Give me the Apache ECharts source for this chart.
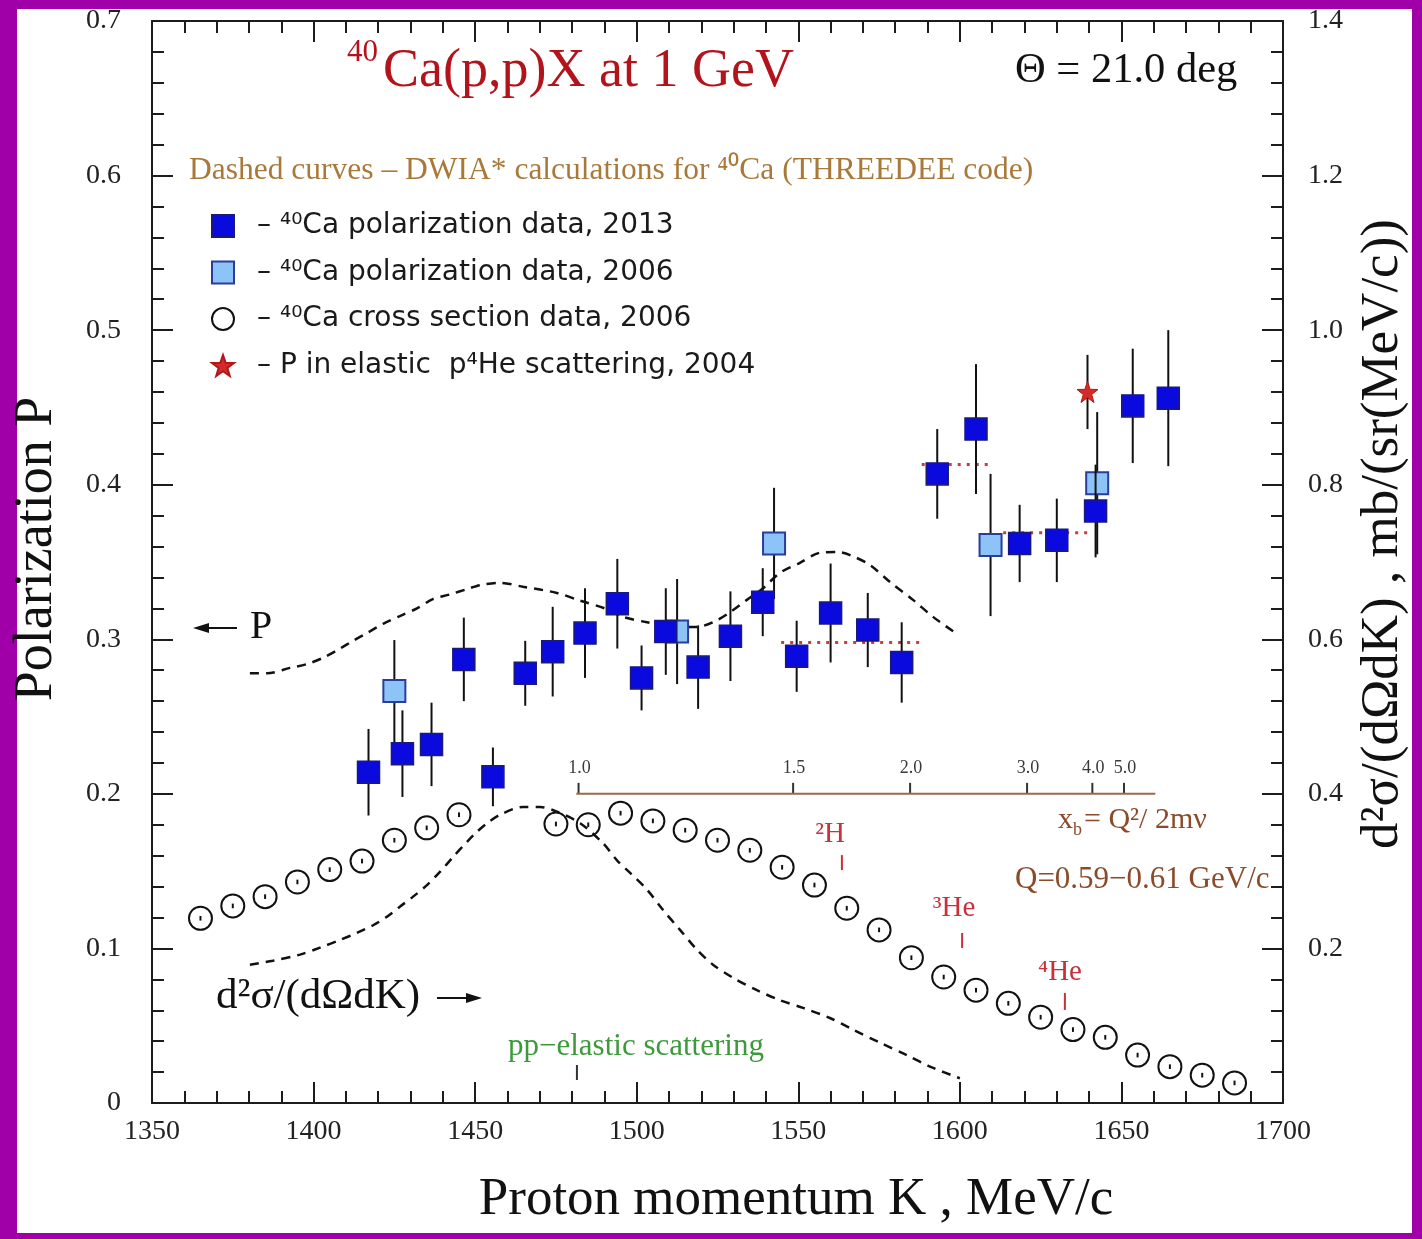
<!DOCTYPE html>
<html>
<head>
<meta charset="utf-8">
<title>40Ca(p,p)X at 1 GeV</title>
<script src="https://cdn.jsdelivr.net/npm/echarts@6/dist/echarts.min.js"></script>
<style>
  html, body { margin: 0; padding: 0; background: #a000a8; }
  #chart { width: 1422px; height: 1239px; }
</style>
</head>
<body>
<div id="chart"></div>
<script>
// ---- 2013 polarization data (K in MeV/c, P, statistical error) ----
const pol2013K   = [1417, 1427.5, 1436.5, 1446.5, 1455.5, 1465.5, 1474, 1484, 1494, 1501.5, 1509, 1519, 1529, 1539, 1549.5, 1560, 1571.5, 1582, 1593, 1605, 1618.5, 1630, 1642, 1653.5, 1664.5];
const pol2013P   = [0.214, 0.226, 0.232, 0.287, 0.211, 0.278, 0.292, 0.304, 0.323, 0.275, 0.305, 0.282, 0.302, 0.324, 0.289, 0.317, 0.306, 0.285, 0.407, 0.436, 0.362, 0.364, 0.383, 0.451, 0.456];
const pol2013Err = [0.028, 0.028, 0.027, 0.027, 0.019, 0.021, 0.029, 0.029, 0.029, 0.021, 0.028, 0.027, 0.029, 0.022, 0.023, 0.032, 0.024, 0.026, 0.029, 0.042, 0.025, 0.027, 0.030, 0.037, 0.044];

// ---- 2006 polarization data ----
const pol2006K   = [1425, 1512.5, 1542.5, 1609.5, 1642.5];
const pol2006P   = [0.2665, 0.305, 0.362, 0.361, 0.401];
const pol2006Err = [0.033, 0.034, 0.036, 0.046, 0.046];

// ---- P in elastic p4He scattering, 2004 ----
const heK   = [1639.5];
const heP   = [0.46];
const heErr = [0.024];

// ---- 2006 cross section data, mb/(sr MeV/c) (right axis) ----
const csK   = [1365, 1375, 1385, 1395, 1405, 1415, 1425, 1435, 1445, 1475, 1485, 1495, 1505, 1515, 1525, 1535, 1545, 1555, 1565, 1575, 1585, 1595, 1605, 1615, 1625, 1635, 1645, 1655, 1665, 1675, 1685];
const csVal = [0.239, 0.255, 0.267, 0.286, 0.302, 0.313, 0.340, 0.356, 0.373, 0.361, 0.360, 0.375, 0.365, 0.353, 0.340, 0.327, 0.305, 0.282, 0.252, 0.224, 0.188, 0.163, 0.146, 0.129, 0.111, 0.095, 0.085, 0.062, 0.047, 0.036, 0.026];
const csErr = 0.003;

// ---- DWIA (THREEDEE) calculations ----
const dwiaPolK = [1380.3, 1385.6, 1392.7, 1398, 1402.9, 1408.2, 1412.2, 1416.5, 1421.5, 1426.7, 1432, 1436.9, 1442.2, 1447.5, 1451.5, 1457.7, 1464.8, 1475.3, 1482.5, 1490.8, 1495.8, 1503.2, 1511.2, 1518.7, 1523.6, 1528.9, 1534.1, 1539.1, 1544.3, 1550.5, 1556.7, 1562, 1566, 1572.2, 1578.4, 1585.5, 1591.7, 1599.4];
const dwiaPolP = [0.278, 0.278, 0.2815, 0.284, 0.288, 0.294, 0.299, 0.304, 0.310, 0.315, 0.320, 0.326, 0.329, 0.3325, 0.335, 0.3365, 0.334, 0.330, 0.325, 0.3195, 0.3145, 0.311, 0.308, 0.308, 0.311, 0.3175, 0.3255, 0.333, 0.343, 0.3495, 0.356, 0.3565, 0.3545, 0.348, 0.337, 0.3255, 0.3145, 0.303];
const dwiaCsK  = [1380.3, 1387.4, 1395.8, 1402, 1408.2, 1413.4, 1418.4, 1422.7, 1426.7, 1430.8, 1435.1, 1439.1, 1443.1, 1447.5, 1450.6, 1453.7, 1457.7, 1464.8, 1470.1, 1475.3, 1482.5, 1489.6, 1493.9, 1497.9, 1503.2, 1508.1, 1513.4, 1518.7, 1523.6, 1529.8, 1537.2, 1544.3, 1551.5, 1559.8, 1566.9, 1575.3, 1583.6, 1590.8, 1600];
const dwiaCsVal = [0.179, 0.184, 0.192, 0.201, 0.211, 0.220, 0.230, 0.241, 0.254, 0.267, 0.282, 0.299, 0.318, 0.338, 0.351, 0.362, 0.373, 0.383, 0.383, 0.377, 0.362, 0.336, 0.314, 0.298, 0.276, 0.250, 0.224, 0.198, 0.179, 0.162, 0.146, 0.133, 0.123, 0.110, 0.095, 0.078, 0.062, 0.047, 0.032];

// ---- averaged polarization plateaus (dotted) ----
const plateauStartK = [1544.7, 1588.2, 1613.4];
const plateauEndK   = [1587.7, 1609.9, 1641.2];
const plateauP      = [0.298, 0.413, 0.369];

// ---- x_b = Q^2/2m nu scale, drawn along P = 0.2 ----
const xbBaseP     = 0.2;
const xbRangeK    = [1481.3, 1660.5];
const xbTickK     = [1482, 1548.4, 1584.6, 1620.8, 1641, 1650.8];
const xbTickLabel = ['1.0', '1.5', '2.0', '3.0', '4.0', '5.0'];

// ---- kinematic markers: quasi-free scattering on 2H, 3He, 4He; pp-elastic ----
const nucleusK    = [1563.5, 1600.7, 1632.5];
const nucleusPLow = [0.1507, 0.1003, 0.0602];
const nucleusPHi  = [0.1604, 0.1100, 0.0712];
const ppK    = [1481.5];
const ppPLow = [0.0149];
const ppPHi  = [0.0246];

// ---- axis ticks ----
const kMin = 1350, kMax = 1700, kStep = 50;
const pMin = 0, pMax = 0.7, pStep = 0.1;
const sMin = 0, sMax = 1.4, sStep = 0.2;

const legendNames = [
  '– ⁴⁰Ca polarization data, 2013',
  '– ⁴⁰Ca polarization data, 2006',
  '– ⁴⁰Ca cross section data, 2006',
  '– P in elastic  p⁴He scattering, 2004'
];

const SERIF = '"Liberation Serif", "Times New Roman", serif';
const SANS = '"DejaVu Sans", sans-serif';
const INK = '#1c1c1c';
const STAR = 'path://M0 -10 L2.351 -3.236 L9.511 -3.09 L3.804 1.236 L5.878 8.09 L0 4 L-5.878 8.09 L-3.804 1.236 L-9.511 -3.09 L-2.351 -3.236 Z';

const zip3 = (a, b, c) => a.map((v, i) => [v, b[i], c[i]]);
const zip2 = (a, b) => a.map((v, i) => [v, b[i]]);

// vertical error bar from (x, y - e) to (x, y + e)
function errorBar(color, width) {
  return function (params, api) {
    const x = api.value(0), y = api.value(1), e = api.value(2);
    const lo = api.coord([x, y - e]);
    const hi = api.coord([x, y + e]);
    return {
      type: 'line',
      shape: { x1: lo[0], y1: lo[1], x2: hi[0], y2: hi[1] },
      style: { stroke: color, lineWidth: width }
    };
  };
}

// short vertical marker from pLow to pHigh
function markTick(color) {
  return function (params, api) {
    const lo = api.coord([api.value(0), api.value(1)]);
    const hi = api.coord([api.value(0), api.value(2)]);
    return {
      type: 'line',
      shape: { x1: lo[0], y1: lo[1], x2: hi[0], y2: hi[1] },
      style: { stroke: color, lineWidth: 2 }
    };
  };
}

function axisCommon(extra) {
  return Object.assign({
    type: 'value',
    axisLine: { show: true, onZero: false, lineStyle: { color: INK, width: 2 } },
    axisTick: { show: true, inside: true, length: 21, lineStyle: { color: INK, width: 2 } },
    minorTick: { show: true, splitNumber: 5, length: 12, lineStyle: { color: INK, width: 2 } },
    splitLine: { show: false },
    minorSplitLine: { show: false }
  }, extra);
}

const chart = echarts.init(document.getElementById('chart'), null, { renderer: 'canvas' });

const dashed = { color: '#111', width: 2.5, type: [9, 7] };

const option = {
  animation: false,
  backgroundColor: '#a000a8',
  grid: { left: 152, right: 139, top: 21, bottom: 136, containLabel: false },
  xAxis: [
    axisCommon({
      position: 'bottom', min: kMin, max: kMax, interval: kStep,
      axisLabel: { fontFamily: SERIF, fontSize: 28, color: '#222', margin: 15, formatter: v => String(v) }
    }),
    axisCommon({
      position: 'top', min: kMin, max: kMax, interval: kStep,
      axisLabel: { show: false }
    })
  ],
  yAxis: [
    axisCommon({
      position: 'left', min: pMin, max: pMax, interval: pStep,
      axisLabel: {
        fontFamily: SERIF, fontSize: 28, color: '#222', margin: 31,
        formatter: v => (Math.abs(v) < 1e-9 ? '0' : v.toFixed(1))
      }
    }),
    axisCommon({
      position: 'right', min: sMin, max: sMax, interval: sStep,
      axisLabel: {
        fontFamily: SERIF, fontSize: 28, color: '#222', margin: 25,
        formatter: v => (Math.abs(v) < 1e-9 ? '' : v.toFixed(1))
      }
    })
  ],
  legend: {
    left: 206, top: 207, orient: 'vertical',
    itemWidth: 22, itemHeight: 22, itemGap: 18.5,
    selectedMode: false,
    textStyle: { fontFamily: SANS, fontSize: 28, color: '#1a1a1a', lineHeight: 22, padding: [0, 0, 0, 18] },
    data: legendNames
  },
  series: [
    // DWIA curves
    { type: 'line', yAxisIndex: 0, data: zip2(dwiaPolK, dwiaPolP), smooth: 0.3, symbol: 'none', lineStyle: dashed, silent: true, z: 2 },
    { type: 'line', yAxisIndex: 1, data: zip2(dwiaCsK, dwiaCsVal), smooth: 0.3, symbol: 'none', lineStyle: dashed, silent: true, z: 2 },
    // averaged plateaus
    ...plateauP.map((p, i) => ({
      type: 'line', yAxisIndex: 0, symbol: 'none', silent: true, z: 2,
      data: [[plateauStartK[i], p], [plateauEndK[i], p]],
      lineStyle: { color: '#cc3b3b', width: 3, type: [3, 6] }
    })),
    // x_b scale
    { type: 'line', yAxisIndex: 0, symbol: 'none', silent: true, z: 2,
      data: xbRangeK.map(k => [k, xbBaseP]),
      lineStyle: { color: '#9b6a4e', width: 2 } },
    { type: 'custom', yAxisIndex: 0, silent: true, z: 2,
      data: xbTickK.map(k => [k, xbBaseP]),
      renderItem: function (params, api) {
        const p = api.coord([api.value(0), api.value(1)]);
        return {
          type: 'group',
          children: [
            { type: 'line', shape: { x1: p[0], y1: p[1], x2: p[0], y2: p[1] - 11 }, style: { stroke: '#333', lineWidth: 2 } },
            { type: 'text', x: p[0] + 1, y: p[1] - 26,
              style: { text: xbTickLabel[params.dataIndex], fill: '#3a3a3a', fontSize: 18, fontFamily: SERIF, textAlign: 'center', textVerticalAlign: 'middle' } }
          ]
        };
      } },
    // kinematic markers
    { type: 'custom', yAxisIndex: 0, silent: true, z: 2, data: zip3(nucleusK, nucleusPLow, nucleusPHi), renderItem: markTick('#c8303a') },
    { type: 'custom', yAxisIndex: 0, silent: true, z: 2, data: zip3(ppK, ppPLow, ppPHi), renderItem: markTick('#333') },
    // cross section data
    { type: 'custom', yAxisIndex: 1, silent: true, z: 3,
      data: csK.map((k, i) => [k, csVal[i], csErr]), renderItem: errorBar('#111', 2) },
    { name: legendNames[2], type: 'scatter', yAxisIndex: 1, z: 3,
      data: zip2(csK, csVal), symbol: 'circle', symbolSize: 23,
      itemStyle: { color: 'rgba(255,255,255,0)', borderColor: '#111', borderWidth: 2, opacity: 1 } },
    // 2006 polarization
    { type: 'custom', yAxisIndex: 0, silent: true, z: 4,
      data: zip3(pol2006K, pol2006P, pol2006Err), renderItem: errorBar('#111', 2) },
    { name: legendNames[1], type: 'scatter', yAxisIndex: 0, z: 5,
      data: zip2(pol2006K, pol2006P), symbol: 'rect', symbolSize: 22,
      itemStyle: { color: '#8cc4f8', borderColor: '#2a3c9c', borderWidth: 2, opacity: 1 } },
    // 2013 polarization
    { type: 'custom', yAxisIndex: 0, silent: true, z: 6,
      data: zip3(pol2013K, pol2013P, pol2013Err), renderItem: errorBar('#111', 2) },
    { name: legendNames[0], type: 'scatter', yAxisIndex: 0, z: 7,
      data: zip2(pol2013K, pol2013P), symbol: 'rect', symbolSize: 22,
      itemStyle: { color: '#0a0ade', borderColor: '#1a1a7a', borderWidth: 1.5, opacity: 1 } },
    // p4He elastic
    { type: 'custom', yAxisIndex: 0, silent: true, z: 8,
      data: zip3(heK, heP, heErr), renderItem: errorBar('#111', 2) },
    { name: legendNames[3], type: 'scatter', yAxisIndex: 0, z: 9,
      data: zip2(heK, heP), symbol: STAR, symbolSize: 21,
      itemStyle: { color: '#d42a2a', borderColor: '#b01818', borderWidth: 1, opacity: 1 } }
  ],
  graphic: [
    { type: 'rect', silent: true, z: -10, shape: { x: 17, y: 9, width: 1395, height: 1224 }, style: { fill: '#ffffff' } },
    // title
    { type: 'text', z: 50, silent: true, x: 347, y: 53,
      style: { text: '40', fill: '#b3141c', fontSize: 31, fontFamily: SERIF, textAlign: 'left', textVerticalAlign: 'middle' } },
    { type: 'text', z: 50, silent: true, x: 383, y: 72,
      style: { text: 'Ca(p,p)X at 1 GeV', fill: '#b3141c', fontSize: 54, fontFamily: SERIF, textAlign: 'left', textVerticalAlign: 'middle' } },
    { type: 'text', z: 50, silent: true, x: 1015, y: 71,
      style: { text: 'Θ = 21.0 deg', fill: '#111', fontSize: 42.5, fontFamily: SERIF, textAlign: 'left', textVerticalAlign: 'middle' } },
    { type: 'text', z: 50, silent: true, x: 189, y: 171,
      style: { text: 'Dashed curves – DWIA* calculations for ⁴⁰Ca (THREEDEE code)', fill: '#a9793a', fontSize: 31.5, fontFamily: SERIF, textAlign: 'left', textVerticalAlign: 'middle' } },
    // axis titles
    { type: 'text', z: 50, silent: true, x: 37, y: 549, rotation: Math.PI / 2,
      style: { text: 'Polarization P', fill: '#111', fontSize: 54, fontFamily: SERIF, textAlign: 'center', textVerticalAlign: 'middle' } },
    { type: 'text', z: 50, silent: true, x: 796, y: 1200,
      style: { text: 'Proton momentum K , MeV/c', fill: '#111', fontSize: 53, fontFamily: SERIF, textAlign: 'center', textVerticalAlign: 'middle' } },
    { type: 'text', z: 50, silent: true, x: 1383, y: 534, rotation: Math.PI / 2,
      style: { text: 'd²σ/(dΩdK) , mb/(sr(MeV/c))', fill: '#111', fontSize: 53, fontFamily: SERIF, textAlign: 'center', textVerticalAlign: 'middle' } },
    // curve labels with arrows
    { type: 'line', z: 50, silent: true, shape: { x1: 205, y1: 628, x2: 237, y2: 628 }, style: { stroke: '#111', lineWidth: 2 } },
    { type: 'polygon', z: 50, silent: true, shape: { points: [[193, 628], [209, 623], [209, 633]] }, style: { fill: '#111' } },
    { type: 'text', z: 50, silent: true, x: 250, y: 627,
      style: { text: 'P', fill: '#111', fontSize: 40, fontFamily: SERIF, textAlign: 'left', textVerticalAlign: 'middle' } },
    { type: 'text', z: 50, silent: true, x: 216, y: 997,
      style: { text: 'd²σ/(dΩdK)', fill: '#111', fontSize: 43, fontFamily: SERIF, textAlign: 'left', textVerticalAlign: 'middle' } },
    { type: 'line', z: 50, silent: true, shape: { x1: 437, y1: 998, x2: 470, y2: 998 }, style: { stroke: '#111', lineWidth: 2 } },
    { type: 'polygon', z: 50, silent: true, shape: { points: [[482, 998], [466, 993], [466, 1003]] }, style: { fill: '#111' } },
    // marker labels
    { type: 'text', z: 50, silent: true, x: 830, y: 834,
      style: { text: '²H', fill: '#c8303a', fontSize: 29, fontFamily: SERIF, textAlign: 'center', textVerticalAlign: 'middle' } },
    { type: 'text', z: 50, silent: true, x: 954, y: 908,
      style: { text: '³He', fill: '#c8303a', fontSize: 29, fontFamily: SERIF, textAlign: 'center', textVerticalAlign: 'middle' } },
    { type: 'text', z: 50, silent: true, x: 1060, y: 972,
      style: { text: '⁴He', fill: '#c8303a', fontSize: 29, fontFamily: SERIF, textAlign: 'center', textVerticalAlign: 'middle' } },
    { type: 'text', z: 50, silent: true, x: 508, y: 1047,
      style: { text: 'pp−elastic scattering', fill: '#3c9a3c', fontSize: 31, fontFamily: SERIF, textAlign: 'left', textVerticalAlign: 'middle' } },
    // x_b definition
    { type: 'text', z: 50, silent: true, x: 1058, y: 820,
      style: { text: 'x', fill: '#8a4b2a', fontSize: 30, fontFamily: SERIF, textAlign: 'left', textVerticalAlign: 'middle' } },
    { type: 'text', z: 50, silent: true, x: 1073, y: 830,
      style: { text: 'b', fill: '#8a4b2a', fontSize: 18, fontFamily: SERIF, textAlign: 'left', textVerticalAlign: 'middle' } },
    { type: 'text', z: 50, silent: true, x: 1084, y: 820,
      style: { text: '= Q²/ 2mν', fill: '#8a4b2a', fontSize: 30, fontFamily: SERIF, textAlign: 'left', textVerticalAlign: 'middle' } },
    { type: 'text', z: 50, silent: true, x: 1015, y: 880,
      style: { text: 'Q=0.59−0.61 GeV/c', fill: '#8a4b2a', fontSize: 31, fontFamily: SERIF, textAlign: 'left', textVerticalAlign: 'middle' } }
  ]
};

chart.setOption(option);
</script>
</body>
</html>
